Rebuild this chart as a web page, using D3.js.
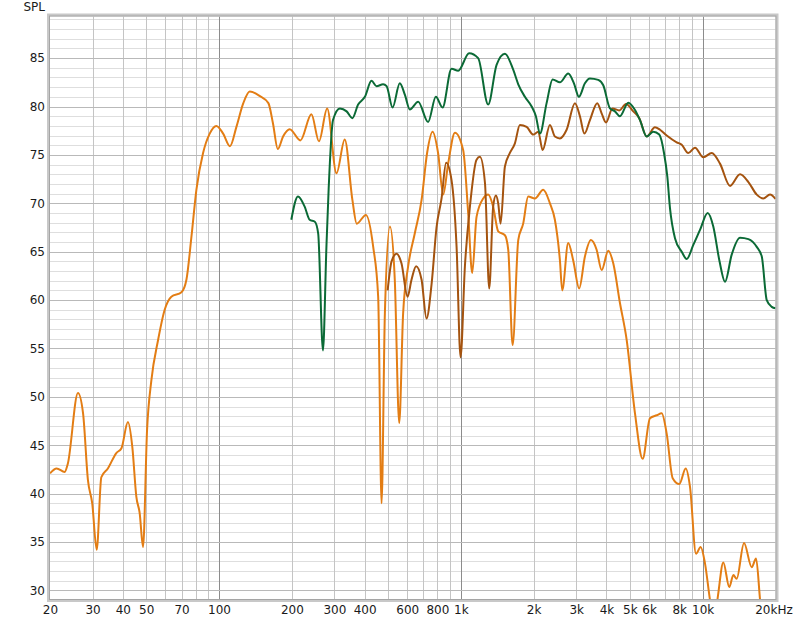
<!DOCTYPE html>
<html>
<head>
<meta charset="utf-8">
<script src="https://cdn.jsdelivr.net/npm/d3@7/dist/d3.min.js"></script>
<style>
  html, body { margin: 0; padding: 0; background: #ffffff; }
  svg { display: block; }
  text { font-family: "DejaVu Sans", Verdana, sans-serif; font-size: 12px; fill: #1a1a1a; }
</style>
</head>
<body>
<svg id="chart" width="800" height="623"></svg>
<script>
// ---------- data ----------
const yAxisTitle = "SPL";
const yTickValues = [30, 35, 40, 45, 50, 55, 60, 65, 70, 75, 80, 85];
const xTickValues = [20, 30, 40, 50, 70, 100, 200, 300, 400, 600, 800, 1000, 2000, 3000, 4000, 5000, 6000, 8000, 10000, 20000];
const xTickLabels = ["20", "30", "40", "50", "70", "100", "200", "300", "400", "600", "800", "1k", "2k", "3k", "4k", "5k", "6k", "8k", "10k", "20kHz"];

// light orange series (full range)
const orangeFreq = [20, 21.3, 23.0, 23.7, 26.1, 27.4, 28.7, 29.9, 31.2, 32.6, 34.7, 37.6, 39.5, 42.0, 43.8, 45.5, 47.0, 48.5, 50.4, 52.5, 56.0, 59.6, 63.5, 69.9, 73.3, 76.9, 80.6, 85.9, 91.5, 97.5, 104, 111, 118, 126, 134, 147, 160, 167, 175, 184, 196, 217, 241, 259, 280, 306, 331, 356, 371, 405, 434, 455, 470, 485, 509, 533, 556, 577, 605, 645, 688, 725, 764, 805, 845, 886, 945, 1022, 1072, 1114, 1161, 1237, 1297, 1360, 1427, 1521, 1570, 1637, 1727, 1810, 1898, 2024, 2190, 2335, 2448, 2568, 2625, 2779, 2915, 3086, 3258, 3450, 3642, 3820, 4069, 4267, 4548, 4848, 5248, 5645, 6053, 6452, 6767, 7097, 7514, 8005, 8507, 8862, 9383, 9810, 10220, 10720, 11140, 11570, 12170, 12880, 13390, 13820, 14820, 15950, 16620, 17270, 17930];
const orangeSPL  = [42.1, 42.6, 42.25, 43.1, 50.4, 48.3, 41.4, 39.0, 34.2, 41.7, 42.6, 44.2, 44.7, 47.4, 44.8, 39.7, 37.95, 34.5, 46.6, 51.7, 55.9, 59.0, 60.35, 60.8, 62.1, 66.55, 71.4, 75.2, 77.2, 78.0, 77.2, 75.9, 77.9, 80.35, 81.55, 81.1, 80.35, 78.3, 75.6, 76.9, 77.65, 76.5, 79.2, 76.4, 79.8, 73.1, 76.6, 70.35, 67.9, 68.8, 65.5, 60.35, 39.0, 58.6, 67.6, 62.1, 47.3, 58.6, 63.45, 66.9, 70.35, 75.2, 77.4, 75.2, 70.9, 74.1, 77.3, 75.5, 69.0, 62.8, 68.6, 70.5, 70.9, 69.65, 67.1, 66.7, 65.2, 55.35, 66.2, 67.9, 70.7, 70.5, 71.4, 70.0, 68.3, 64.1, 61.0, 65.9, 64.1, 61.2, 64.5, 66.2, 65.2, 63.1, 65.1, 63.8, 59.7, 55.9, 48.3, 43.6, 47.8, 48.1, 48.3, 46.2, 41.6, 41.0, 42.6, 40.7, 33.8, 34.5, 32.8, 29.0, 26.5, 29.5, 32.9, 30.35, 31.6, 31.2, 34.9, 32.4, 33.3, 29.0, 25.0];

// green series
const greenFreq = [199, 212, 226, 237, 249, 257, 269, 278, 284, 296, 316, 337, 356, 376, 401, 427, 448, 477, 493, 522, 559, 587, 615, 666, 732, 788, 840, 915, 975, 1082, 1179, 1297, 1405, 1521, 1646, 1727, 1840, 1962, 2043, 2123, 2262, 2396, 2568, 2779, 2935, 3077, 3258, 3417, 3699, 3880, 4136, 4338, 4548, 4923, 5248, 5504, 5867, 6246, 6613, 6918, 7137, 7323, 7680, 8190, 8588, 9144, 9746, 10490, 11060, 11720, 12370, 13180, 14270, 15450, 16730, 17550, 18400, 19300, 20000];
const greenSPL  = [68.3, 70.7, 69.65, 68.3, 68.1, 66.9, 54.8, 65.5, 71.5, 78.6, 79.8, 79.5, 78.8, 80.2, 81.0, 82.65, 82.1, 82.3, 82.1, 79.9, 82.4, 81.2, 79.7, 80.5, 78.4, 81.0, 79.9, 83.9, 83.7, 85.5, 85.0, 80.2, 84.3, 85.45, 83.8, 82.3, 81.0, 80.0, 79.0, 77.2, 80.35, 82.8, 82.5, 83.4, 82.4, 81.0, 82.4, 82.9, 82.75, 82.2, 79.8, 79.5, 79.0, 80.4, 79.65, 78.6, 76.9, 77.4, 77.1, 75.2, 72.8, 69.5, 66.4, 65.0, 64.25, 65.7, 67.25, 69.0, 67.6, 64.1, 61.9, 64.7, 66.45, 66.3, 65.5, 64.5, 60.0, 59.3, 59.15];

// dark orange / brown series
const brownFreq = [498, 517, 542, 568, 602, 625, 653, 688, 721, 757, 793, 832, 869, 915, 960, 997, 1039, 1090, 1161, 1199, 1258, 1310, 1360, 1396, 1427, 1460, 1521, 1595, 1673, 1754, 1870, 1991, 2089, 2178, 2335, 2448, 2568, 2737, 2963, 3107, 3242, 3417, 3664, 3820, 3981, 4236, 4518, 4817, 5164, 5468, 5867, 6349, 6657, 7097, 7806, 8190, 8718, 9292, 10060, 10900, 11790, 12970, 14270, 15450, 16730, 17810, 18980, 20000];
const brownSPL  = [61.0, 64.0, 64.8, 63.8, 60.35, 62.1, 63.5, 62.1, 58.1, 61.7, 67.5, 70.5, 74.2, 72.4, 65.5, 54.1, 63.45, 69.65, 74.5, 74.8, 72.1, 61.2, 69.65, 70.8, 70.0, 67.9, 73.8, 75.2, 76.2, 78.1, 77.9, 77.1, 77.4, 75.5, 78.1, 76.9, 76.7, 77.6, 80.35, 79.0, 77.2, 78.6, 80.35, 79.3, 78.35, 79.8, 79.6, 80.25, 79.5, 78.8, 76.9, 77.85, 77.6, 77.0, 76.3, 76.05, 75.2, 75.75, 74.75, 75.2, 74.1, 71.8, 73.0, 72.2, 70.9, 70.5, 70.9, 70.45];

const seriesColors = { orange: "#e37d14", green: "#0b6a36", brown: "#a4530f" };

// ---------- layout ----------
const svg = d3.select("#chart");
const L = 50, R = 775.5, T = 16.5, B = 599;

const x = d3.scaleLog().domain([20, 20000]).range([L, R]);
const y = d3.scaleLinear().domain([29.12, 89.3]).range([B, T]);

// grid
const grid = svg.append("g");
const minorY = d3.range(30, 90, 1).filter(v => v % 5 !== 0);
grid.selectAll("line.my").data(minorY).enter().append("line")
  .attr("x1", L).attr("x2", R)
  .attr("y1", d => Math.round(y(d)) + 0.5).attr("y2", d => Math.round(y(d)) + 0.5)
  .attr("stroke", "#dedede").attr("stroke-width", 1);

const vLines = [];
[10, 100, 1000, 10000].forEach(dec => {
  for (let k = 1; k <= 9; k++) {
    const f = dec * k;
    if (f > 20 && f < 20000) vLines.push(f);
  }
});
grid.selectAll("line.vx").data(vLines).enter().append("line")
  .attr("x1", d => Math.round(x(d)) + 0.5).attr("x2", d => Math.round(x(d)) + 0.5)
  .attr("y1", T).attr("y2", B)
  .attr("stroke", d => ([100, 1000, 10000].includes(d) ? "#8c8c8c" : "#c4c4c4"))
  .attr("stroke-width", 1);

grid.selectAll("line.My").data(yTickValues).enter().append("line")
  .attr("x1", L).attr("x2", R)
  .attr("y1", d => Math.round(y(d)) + 0.5).attr("y2", d => Math.round(y(d)) + 0.5)
  .attr("stroke", "#b9b9b9").attr("stroke-width", 1);

// frame
svg.append("rect")
  .attr("x", L - 1.5).attr("y", T - 1.5).attr("width", R - L + 3).attr("height", B - T + 3)
  .attr("fill", "none").attr("stroke", "#c8c8c8").attr("stroke-width", 3);
svg.append("rect")
  .attr("x", L - 0.5).attr("y", T - 0.5).attr("width", R - L + 1).attr("height", B - T + 1)
  .attr("fill", "none").attr("stroke", "#a5a5a5").attr("stroke-width", 1);

// clip
svg.append("clipPath").attr("id", "plotclip").append("rect")
  .attr("x", L).attr("y", T).attr("width", R - L).attr("height", B - T);

// lines
const line = d3.line().x(d => x(d[0])).y(d => y(d[1])).curve(d3.curveMonotoneX);
const series = [
  { f: orangeFreq, v: orangeSPL, c: seriesColors.orange },
  { f: brownFreq, v: brownSPL, c: seriesColors.brown },
  { f: greenFreq, v: greenSPL, c: seriesColors.green }
];
const plot = svg.append("g").attr("clip-path", "url(#plotclip)");
series.forEach(s => {
  plot.append("path")
    .datum(s.f.map((f, i) => [f, s.v[i]]))
    .attr("d", line)
    .attr("fill", "none")
    .attr("stroke", s.c)
    .attr("stroke-width", 2)
    .attr("stroke-linejoin", "round");
});

// axes (labels only)
const yAxis = d3.axisLeft(y).tickValues(yTickValues).tickSize(0).tickPadding(0).tickFormat(d3.format("d"));
const gy = svg.append("g").attr("transform", `translate(${L - 5},0)`).call(yAxis);
gy.select(".domain").remove();
gy.selectAll("text").style("font-size", "12px").attr("fill", "#1a1a1a");

const xAxis = d3.axisBottom(x).tickValues(xTickValues).tickSize(0).tickPadding(0)
  .tickFormat((d, i) => xTickLabels[i]);
const gx = svg.append("g").attr("transform", `translate(0,${B + 6})`).call(xAxis);
gx.select(".domain").remove();
gx.selectAll("text").style("font-size", "12px").attr("fill", "#1a1a1a");
gx.selectAll("text").filter((d, i) => i === xTickLabels.length - 1).attr("dx", "-2");

svg.append("text").attr("x", L - 5).attr("y", 11).attr("text-anchor", "end").text(yAxisTitle);
</script>
</body>
</html>
